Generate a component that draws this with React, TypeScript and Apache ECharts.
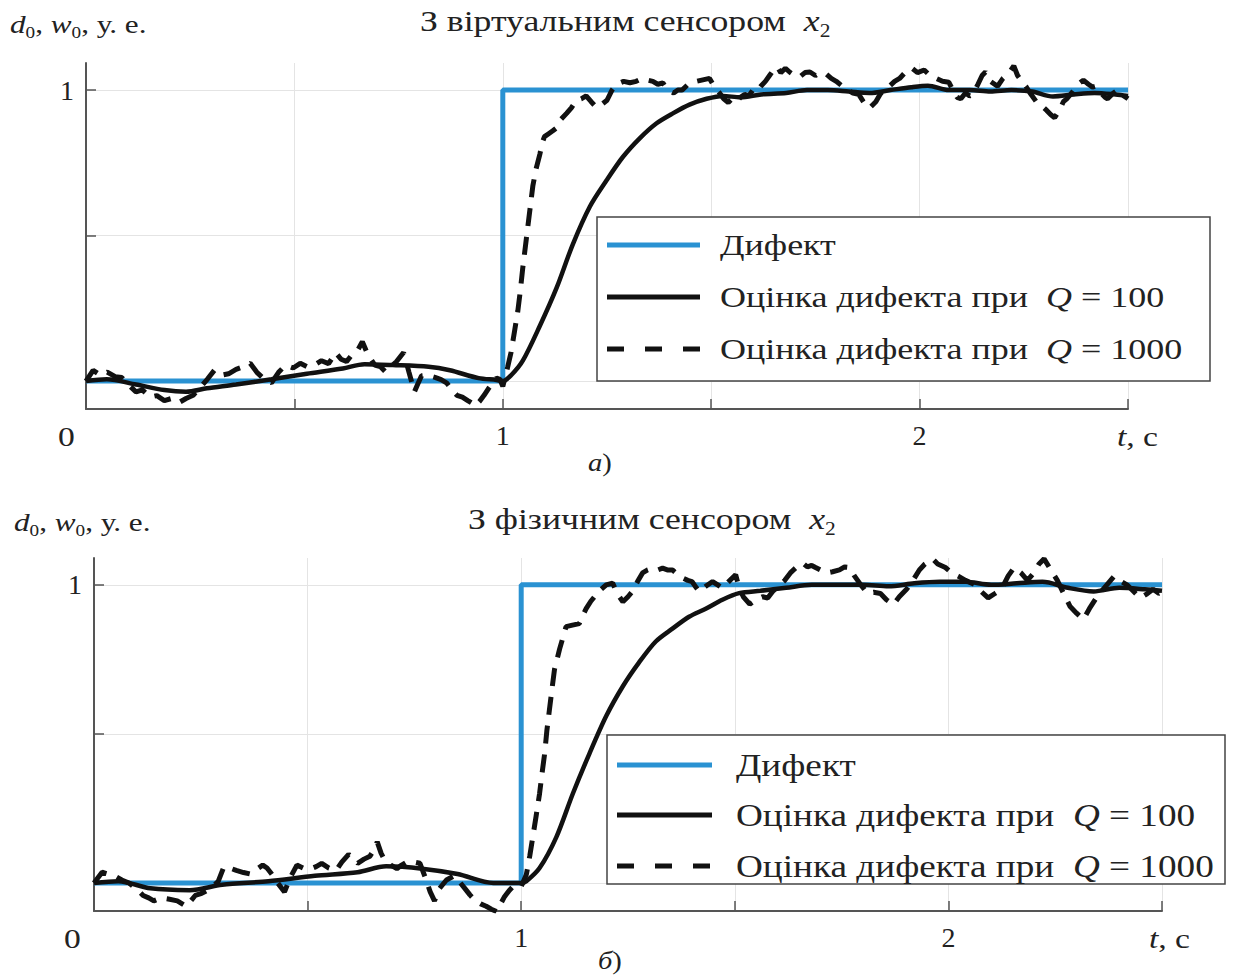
import React, { useEffect, useRef } from "react";
import * as echarts from "echarts";

const SERIF = "'Liberation Serif', 'Times New Roman', serif";
const BLUE = "#2a92d2";
const INK = "#111111";
const TEXT = "#222222";
const SX = 1.2; // horizontal stretch of the reference lettering

// ---- Data (t in seconds, value in relative units) ----
const NAME_D = "Дифект";
const NAME_Q100 = "Оцінка дифекта при Q = 100";
const NAME_Q1000 = "Оцінка дифекта при Q = 1000";

const xTickLabels = ["1", "2"];
const yTickLabels = ["1"];

const defectTop = [[0, 0], [1, 0], [1, 1], [2.5, 1]];
const defectBottom = [[0, 0], [1, 0], [1, 1], [2.5, 1]];

const q100Top = [
  [0, 0], [0.05, 0.006], [0.12, -0.012], [0.188, -0.031], [0.24, -0.037], [0.29, -0.025], [0.36, -0.012],
  [0.445, 0.006], [0.53, 0.025], [0.616, 0.043], [0.668, 0.058], [0.736, 0.055], [0.822, 0.049],
  [0.873, 0.037], [0.942, 0.01], [0.985, 0.004], [1.0, 0.0], [1.02, 0.02], [1.048, 0.07], [1.089, 0.19],
  [1.129, 0.32], [1.168, 0.47], [1.209, 0.6], [1.249, 0.69], [1.288, 0.77], [1.329, 0.835], [1.369, 0.886],
  [1.408, 0.92], [1.448, 0.95], [1.489, 0.97], [1.528, 0.98], [1.57, 0.975], [1.62, 0.985], [1.68, 0.99],
  [1.73, 1.0], [1.78, 1.0], [1.83, 0.995], [1.88, 0.99], [1.93, 1.0], [1.98, 1.01], [2.02, 1.015],
  [2.07, 1.0], [2.12, 1.0], [2.17, 0.995], [2.22, 1.0], [2.27, 0.995], [2.32, 0.978], [2.37, 0.985],
  [2.42, 0.99], [2.47, 0.985], [2.5, 0.98],
];

const q1000Top = [
  [0, 0], [0.017, 0.037], [0.035, 0.02], [0.051, 0.031], [0.07, 0.015], [0.086, 0.012], [0.1, -0.01],
  [0.12, -0.037], [0.135, -0.03], [0.154, -0.055], [0.17, -0.05], [0.188, -0.067], [0.205, -0.06],
  [0.223, -0.074], [0.24, -0.06], [0.257, -0.049], [0.275, -0.02], [0.291, 0.006], [0.308, 0.037],
  [0.325, 0.02], [0.342, 0.025], [0.36, 0.04], [0.377, 0.049], [0.394, 0.061], [0.41, 0.03], [0.428, 0.006],
  [0.445, -0.006], [0.462, 0.03], [0.479, 0.055], [0.497, 0.045], [0.514, 0.061], [0.53, 0.05],
  [0.548, 0.055], [0.565, 0.07], [0.582, 0.06], [0.599, 0.098], [0.612, 0.075], [0.625, 0.067],
  [0.638, 0.09], [0.651, 0.104], [0.663, 0.135], [0.676, 0.092], [0.693, 0.055], [0.706, 0.05],
  [0.719, 0.031], [0.732, 0.05], [0.745, 0.067], [0.762, 0.098], [0.775, 0.03], [0.788, -0.037],
  [0.796, -0.01], [0.805, 0.018], [0.82, 0.02], [0.839, 0.012], [0.852, 0.005], [0.865, -0.006],
  [0.878, -0.03], [0.89, -0.049], [0.903, -0.055], [0.916, -0.067], [0.925, -0.075], [0.933, -0.086],
  [0.944, -0.07], [0.955, -0.049], [0.966, -0.025], [0.976, -0.006], [0.985, 0.01], [0.993, 0.006],
  [1.0, -0.018], [1.005, 0.01], [1.012, 0.05], [1.02, 0.1], [1.028, 0.17], [1.036, 0.24], [1.042, 0.31],
  [1.048, 0.39], [1.054, 0.46], [1.06, 0.53], [1.066, 0.6], [1.072, 0.67], [1.08, 0.73], [1.089, 0.78],
  [1.095, 0.82], [1.1, 0.84], [1.11, 0.85], [1.12, 0.86], [1.129, 0.87], [1.14, 0.9], [1.153, 0.92],
  [1.165, 0.94], [1.177, 0.965], [1.188, 0.97], [1.2, 0.98], [1.212, 0.96], [1.225, 0.94], [1.237, 0.95],
  [1.25, 0.965], [1.262, 1.0], [1.273, 1.02], [1.29, 1.03], [1.305, 1.025], [1.32, 1.03], [1.335, 1.04],
  [1.345, 1.035], [1.36, 1.03], [1.372, 1.02], [1.384, 1.025], [1.395, 1.0], [1.41, 0.99], [1.42, 1.0],
  [1.43, 1.0], [1.445, 1.02], [1.465, 1.03], [1.48, 1.035], [1.496, 1.04], [1.508, 1.01], [1.52, 0.99],
  [1.53, 0.97], [1.541, 0.957], [1.55, 0.97], [1.562, 0.96], [1.57, 0.975], [1.58, 0.985], [1.59, 0.98],
  [1.6, 1.0], [1.61, 0.995], [1.619, 1.013], [1.63, 1.03], [1.64, 1.05], [1.65, 1.07], [1.658, 1.08],
  [1.667, 1.06], [1.678, 1.075], [1.688, 1.062], [1.7, 1.05], [1.712, 1.045], [1.725, 1.06], [1.737, 1.062],
  [1.75, 1.05], [1.762, 1.06], [1.776, 1.055], [1.788, 1.04], [1.8, 1.03], [1.815, 1.013], [1.828, 1.0],
  [1.84, 0.99], [1.854, 0.985], [1.865, 0.96], [1.874, 0.94], [1.883, 0.943], [1.895, 0.96], [1.905, 0.985],
  [1.913, 0.999], [1.925, 1.01], [1.94, 1.03], [1.952, 1.04], [1.965, 1.06], [1.981, 1.076], [1.995, 1.06],
  [2.011, 1.069], [2.025, 1.05], [2.04, 1.04], [2.055, 1.03], [2.07, 1.027], [2.08, 1.0], [2.09, 0.975],
  [2.099, 0.97], [2.11, 0.99], [2.12, 0.98], [2.128, 0.985], [2.14, 1.02], [2.15, 1.05], [2.158, 1.062],
  [2.17, 1.03], [2.18, 1.02], [2.187, 1.013], [2.2, 1.04], [2.215, 1.06], [2.226, 1.083], [2.235, 1.05],
  [2.245, 1.03], [2.255, 1.013], [2.265, 0.99], [2.28, 0.96], [2.295, 0.943], [2.305, 0.93], [2.315, 0.915],
  [2.324, 0.905], [2.335, 0.93], [2.345, 0.96], [2.353, 0.97], [2.365, 0.99], [2.38, 1.02], [2.393, 1.034],
  [2.405, 1.02], [2.415, 1.01], [2.422, 1.013], [2.435, 0.99], [2.445, 0.975], [2.451, 0.97], [2.465, 0.99],
  [2.475, 1.0], [2.481, 0.999], [2.49, 0.98], [2.5, 0.97],
];

const q100Bottom = [
  [0, 0], [0.057, 0.006], [0.132, -0.018], [0.224, -0.024], [0.3, -0.006], [0.408, 0.006], [0.517, 0.024],
  [0.617, 0.036], [0.684, 0.056], [0.768, 0.048], [0.851, 0.03], [0.935, 0.0], [1.0, 0.0], [1.012, 0.006],
  [1.043, 0.05], [1.082, 0.153], [1.121, 0.3], [1.16, 0.435], [1.199, 0.56], [1.238, 0.66], [1.276, 0.74],
  [1.315, 0.81], [1.354, 0.853], [1.393, 0.893], [1.432, 0.92], [1.471, 0.95], [1.51, 0.972], [1.56, 0.98],
  [1.62, 0.99], [1.68, 1.0], [1.74, 1.0], [1.8, 1.0], [1.86, 0.995], [1.92, 1.005], [1.98, 1.01],
  [2.04, 1.01], [2.1, 1.0], [2.16, 1.005], [2.22, 1.01], [2.28, 0.99], [2.34, 0.978], [2.4, 0.99],
  [2.46, 0.985], [2.5, 0.98],
];

const q1000Bottom = [
  [0, 0], [0.019, 0.036], [0.033, 0.03], [0.048, 0.024], [0.065, 0.01], [0.082, 0], [0.1, -0.02],
  [0.115, -0.042], [0.128, -0.05], [0.14, -0.06], [0.157, -0.05], [0.174, -0.054], [0.195, -0.06],
  [0.216, -0.078], [0.237, -0.042], [0.252, -0.035], [0.266, -0.024], [0.28, -0.01], [0.291, 0.006],
  [0.304, 0.054], [0.318, 0.05], [0.333, 0.042], [0.35, 0.035], [0.366, 0.03], [0.38, 0.045], [0.395, 0.06],
  [0.405, 0.05], [0.416, 0.03], [0.43, 0.0], [0.446, -0.03], [0.46, 0.02], [0.475, 0.06], [0.49, 0.05],
  [0.508, 0.048], [0.52, 0.055], [0.533, 0.066], [0.55, 0.05], [0.567, 0.042], [0.58, 0.07], [0.596, 0.096],
  [0.607, 0.08], [0.617, 0.066], [0.632, 0.08], [0.646, 0.09], [0.655, 0.11], [0.663, 0.138], [0.672, 0.1],
  [0.68, 0.078], [0.695, 0.06], [0.709, 0.048], [0.72, 0.06], [0.734, 0.072], [0.75, 0.07], [0.763, 0.066],
  [0.775, 0.02], [0.787, -0.03], [0.797, -0.06], [0.809, -0.018], [0.825, 0.01], [0.843, 0.024],
  [0.855, 0.005], [0.868, -0.018], [0.88, -0.04], [0.893, -0.06], [0.905, -0.07], [0.918, -0.078],
  [0.93, -0.088], [0.943, -0.096], [0.952, -0.07], [0.96, -0.048], [0.972, -0.025], [0.985, -0.006],
  [1.0, -0.012], [1.012, 0.028], [1.02, 0.09], [1.027, 0.153], [1.035, 0.225], [1.043, 0.3], [1.049, 0.37],
  [1.055, 0.435], [1.06, 0.51], [1.066, 0.58], [1.072, 0.65], [1.078, 0.717], [1.084, 0.75], [1.09, 0.785],
  [1.097, 0.82], [1.105, 0.86], [1.12, 0.865], [1.136, 0.87], [1.145, 0.9], [1.152, 0.92], [1.163, 0.945],
  [1.175, 0.966], [1.187, 0.985], [1.199, 1.0], [1.214, 1.006], [1.225, 0.97], [1.238, 0.943], [1.25, 0.96],
  [1.26, 0.977], [1.272, 1.01], [1.284, 1.04], [1.296, 1.05], [1.308, 1.056], [1.32, 1.05], [1.331, 1.056],
  [1.342, 1.05], [1.354, 1.05], [1.366, 1.035], [1.378, 1.023], [1.39, 1.015], [1.4, 1.011], [1.41, 0.99],
  [1.417, 0.977], [1.432, 0.995], [1.448, 1.011], [1.46, 1.0], [1.471, 0.989], [1.485, 1.01], [1.502, 1.034],
  [1.51, 0.99], [1.52, 0.96], [1.535, 0.935], [1.55, 0.95], [1.565, 0.96], [1.577, 0.956], [1.59, 0.98],
  [1.605, 1.0], [1.617, 1.015], [1.63, 1.04], [1.645, 1.06], [1.659, 1.073], [1.67, 1.06], [1.68, 1.065],
  [1.689, 1.058], [1.7, 1.05], [1.715, 1.04], [1.729, 1.044], [1.745, 1.05], [1.757, 1.06], [1.769, 1.058],
  [1.78, 1.03], [1.795, 1.0], [1.811, 0.971], [1.825, 0.975], [1.841, 0.971], [1.855, 0.95], [1.871, 0.934],
  [1.885, 0.96], [1.902, 0.985], [1.915, 1.01], [1.932, 1.05], [1.945, 1.07], [1.963, 1.087], [1.975, 1.07],
  [1.993, 1.058], [2.008, 1.04], [2.023, 1.029], [2.04, 1.015], [2.063, 1.0], [2.075, 0.98], [2.093, 0.956],
  [2.108, 0.97], [2.124, 0.985], [2.14, 1.03], [2.154, 1.058], [2.17, 1.04], [2.185, 1.015], [2.2, 1.04],
  [2.212, 1.07], [2.224, 1.087], [2.24, 1.05], [2.255, 1.015], [2.27, 0.97], [2.285, 0.927], [2.3, 0.905],
  [2.316, 0.884], [2.33, 0.92], [2.346, 0.956], [2.365, 0.99], [2.388, 1.029], [2.4, 1.015], [2.418, 1.0],
  [2.432, 0.98], [2.449, 0.956], [2.465, 0.97], [2.479, 0.985], [2.493, 0.971], [2.5, 0.975],
];

function xAxisFor(gridIndex: number) {
  return {
    type: "value",
    gridIndex,
    min: 0,
    max: 2.5,
    interval: 0.5,
    axisLine: { show: true, onZero: false, lineStyle: { color: "#555", width: 2 } },
    axisTick: { show: true, inside: true, length: 10, lineStyle: { color: "#555", width: 1.5 } },
    axisLabel: {
      show: true,
      margin: 12,
      fontFamily: SERIF,
      fontSize: 28,
      color: TEXT,
      formatter: (v: number) => (v === 1 ? xTickLabels[0] : v === 2 ? xTickLabels[1] : ""),
    },
    splitLine: { show: true, lineStyle: { color: "#e4e4e4", width: 1 } },
  };
}

function yAxisFor(gridIndex: number, min: number, max: number) {
  return {
    type: "value",
    gridIndex,
    min,
    max,
    axisLine: { show: true, onZero: false, lineStyle: { color: "#555", width: 2 } },
    axisTick: {
      show: true,
      inside: true,
      length: 10,
      customValues: [0, 0.5, 1],
      lineStyle: { color: "#555", width: 1.5 },
    },
    axisLabel: {
      show: true,
      customValues: [1],
      margin: 12,
      fontFamily: SERIF,
      fontSize: 28,
      color: TEXT,
      formatter: (v: number) => (v === 1 ? yTickLabels[0] : ""),
    },
    splitLine: { show: true, lineStyle: { color: "#e4e4e4", width: 1 } },
  };
}

function seriesFor(idx: number, defect: number[][], q100: number[][], q1000: number[][]) {
  return [
    {
      name: NAME_D,
      type: "line",
      xAxisIndex: idx,
      yAxisIndex: idx,
      data: defect,
      symbol: "none",
      z: 2,
      lineStyle: { color: BLUE, width: 5 },
      itemStyle: { color: BLUE },
    },
    {
      name: NAME_Q1000,
      type: "line",
      xAxisIndex: idx,
      yAxisIndex: idx,
      data: q1000,
      symbol: "none",
      z: 3,
      lineStyle: { color: INK, width: 5, type: [18, 11], cap: "butt" },
      itemStyle: { color: INK },
    },
    {
      name: NAME_Q100,
      type: "line",
      xAxisIndex: idx,
      yAxisIndex: idx,
      data: q100,
      symbol: "none",
      smooth: 0.3,
      z: 4,
      lineStyle: { color: INK, width: 4.5 },
      itemStyle: { color: INK },
    },
  ];
}

const richSub = {
  i: { fontStyle: "italic", fontFamily: SERIF, fontSize: 26, color: TEXT, lineHeight: 34 },
  n: { fontFamily: SERIF, fontSize: 26, color: TEXT, lineHeight: 34 },
  s: { fontFamily: SERIF, fontSize: 16, color: TEXT, lineHeight: 16, verticalAlign: "bottom" },
};
const richTitle = {
  n: { fontFamily: SERIF, fontSize: 30, color: TEXT, lineHeight: 38 },
  i: { fontStyle: "italic", fontFamily: SERIF, fontSize: 30, color: TEXT, lineHeight: 38 },
  s: { fontFamily: SERIF, fontSize: 18, color: TEXT, lineHeight: 18, verticalAlign: "bottom" },
};

function txt(x: number, y: number, text: string, extra: any = {}, scaleX = 1) {
  return {
    type: "text",
    x,
    y,
    scaleX,
    silent: true,
    z: 100,
    style: {
      text,
      fontFamily: SERIF,
      fontSize: 28,
      fill: TEXT,
      align: "left",
      verticalAlign: "middle",
      ...extra,
    },
  };
}

function legendBox(
  x: number, y: number, w: number, h: number,
  lineX: number, lineW: number, textX: number, rows: number[], fs: number,
) {
  const rich = { q: { fontStyle: "italic", fontFamily: SERIF, fontSize: fs, color: TEXT } };
  return {
    type: "group",
    z: 90,
    children: [
      {
        type: "rect",
        shape: { x, y, width: w, height: h },
        style: { fill: "#ffffff", stroke: "#444", lineWidth: 1.5 },
        z: 90,
      },
      {
        type: "line",
        shape: { x1: lineX, y1: rows[0], x2: lineX + lineW, y2: rows[0] },
        style: { stroke: BLUE, lineWidth: 5 },
        z: 91,
      },
      {
        type: "line",
        shape: { x1: lineX, y1: rows[1], x2: lineX + lineW, y2: rows[1] },
        style: { stroke: INK, lineWidth: 5 },
        z: 91,
      },
      {
        type: "line",
        shape: { x1: lineX, y1: rows[2], x2: lineX + lineW, y2: rows[2] },
        style: { stroke: INK, lineWidth: 5, lineDash: [17, 21] },
        z: 91,
      },
      txt(textX, rows[0], "Дифект", { fontSize: fs }, SX),
      txt(textX, rows[1], "Оцінка дифекта при  {q|Q} = 100", { fontSize: fs, rich }, SX),
      txt(textX, rows[2], "Оцінка дифекта при  {q|Q} = 1000", { fontSize: fs, rich }, SX),
    ],
  };
}

const tcRich = {
  i: { fontStyle: "italic", fontFamily: SERIF, fontSize: 28, color: TEXT },
  n: { fontFamily: SERIF, fontSize: 28, color: TEXT },
};
const capRich = { i: { fontStyle: "italic", fontFamily: SERIF, fontSize: 26, color: TEXT } };

export default function App() {
  const ref = useRef<HTMLDivElement>(null);
  useEffect(() => {
    if (!ref.current) return;
    const chart = echarts.init(ref.current, null, { renderer: "svg" });
    const option: any = {
      animation: false,
      backgroundColor: "#ffffff",
      grid: [
        { left: 86, top: 63, width: 1042, height: 346 },
        { left: 94, top: 558, width: 1068, height: 353 },
      ],
      xAxis: [xAxisFor(0), xAxisFor(1)],
      yAxis: [yAxisFor(0, -0.096, 1.093), yAxisFor(1, -0.094, 1.09)],
      series: [
        ...seriesFor(0, defectTop, q100Top, q1000Top),
        ...seriesFor(1, defectBottom, q100Bottom, q1000Bottom),
      ],
      graphic: [
        txt(420, 21, "{n|З віртуальним сенсором  }{i|x}{s|2}", { rich: richTitle }, 1.19),
        txt(468, 519, "{n|З фізичним сенсором  }{i|x}{s|2}", { rich: richTitle }, 1.19),
        txt(10, 24, "{i|d}{s|0}{n|, }{i|w}{s|0}{n|, у. е.}", { rich: richSub }, SX),
        txt(14, 522, "{i|d}{s|0}{n|, }{i|w}{s|0}{n|, у. е.}", { rich: richSub }, SX),
        txt(58, 436, "0", {}, SX),
        txt(64, 938, "0", {}, SX),
        txt(1117, 436, "{i|t}{n|, с}", { rich: tcRich }, SX),
        txt(1149, 938, "{i|t}{n|, с}", { rich: tcRich }, SX),
        txt(588, 462, "{i|а})", { fontSize: 26, rich: capRich }, 1.1),
        txt(598, 960, "{i|б})", { fontSize: 26, rich: capRich }, 1.1),
        legendBox(597, 217, 613, 164, 607, 93, 720, [245, 297, 349], 30),
        legendBox(607, 735, 618, 149, 617, 95, 736, [765, 815, 866], 31),
      ],
    };
    chart.setOption(option);
    return () => chart.dispose();
  }, []);
  return (
    <div
      ref={ref}
      style={{ position: "absolute", left: 0, top: 0, width: 1244, height: 977, background: "#fff" }}
    />
  );
}
